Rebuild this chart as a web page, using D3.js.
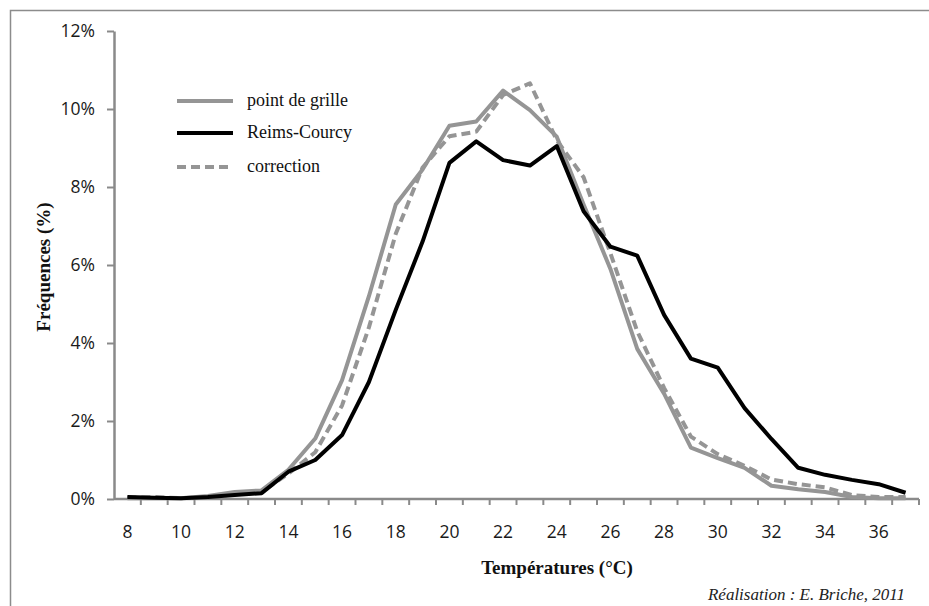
<!DOCTYPE html>
<html>
<head>
<meta charset="utf-8">
<script src="https://cdn.jsdelivr.net/npm/d3@7"></script>
<style>
  html, body { margin: 0; padding: 0; background: #fff; }
  svg { display: block; }
</style>
</head>
<body>
<svg id="chart" width="929" height="606"></svg>
<script>
const temperatures = [8,9,10,11,12,13,14,15,16,17,18,19,20,21,22,23,24,25,26,27,28,29,30,31,32,33,34,35,36,37];
const pointDeGrille = [0.02,0.02,0.02,0.08,0.18,0.22,0.75,1.55,3.05,5.2,7.55,8.45,9.57,9.68,10.47,9.97,9.29,7.55,5.9,3.85,2.7,1.32,1.05,0.8,0.34,0.25,0.18,0.05,0.02,0.02];
const reimsCourcy = [0.05,0.03,0.02,0.05,0.1,0.15,0.7,1.0,1.64,3.0,4.85,6.6,8.62,9.17,8.69,8.55,9.05,7.38,6.47,6.24,4.72,3.6,3.37,2.33,1.54,0.8,0.62,0.49,0.38,0.16];
const correction = [0.03,0.05,0.02,0.05,0.12,0.18,0.65,1.2,2.4,4.4,6.8,8.5,9.3,9.42,10.36,10.66,9.2,8.25,6.3,4.3,2.85,1.6,1.15,0.85,0.5,0.38,0.3,0.1,0.05,0.05];
const yTicks = [0,2,4,6,8,10,12];
const xTickLabels = [8,10,12,14,16,18,20,22,24,26,28,30,32,34,36];
const seriesNames = ["point de grille","Reims-Courcy","correction"];

(function () {
const svg = d3.select("#chart");
const axisColor = "#8a8a8a";
const grey = "#959595";

// frame (top and left edges visible)
svg.append("rect").attr("x",10.5).attr("y",10.5).attr("width",1000).attr("height",1000)
  .attr("fill","none").attr("stroke","#8c8c8c").attr("stroke-width",1.5);

const pLeft = 114, pRight = 919, pTop = 31, pBottom = 499;
const x = d3.scaleBand().domain(temperatures).range([pLeft, pRight]).paddingInner(0).paddingOuter(0);
const y = d3.scaleLinear().domain([0, 12]).range([pBottom, pTop]);

// y axis
const yAxis = d3.axisLeft(y).tickValues(yTicks).tickFormat(d => d + "%").tickSize(7).tickSizeOuter(0);
const gy = svg.append("g").attr("transform", `translate(${pLeft},0)`).call(yAxis);
gy.select(".domain").attr("stroke", axisColor).attr("stroke-width", 2.5);
gy.selectAll(".tick line").attr("stroke", axisColor).attr("stroke-width", 2);
gy.selectAll(".tick text").attr("fill", "#1a1a1a").attr("font-family", "'Open Sans', Lato, sans-serif")
  .attr("font-size", 17.5).attr("dx", -9);

// x axis: ticks at band boundaries
const bounds = temperatures.map(t => x(t)).concat([x(temperatures[temperatures.length-1]) + x.bandwidth()]);
const gx = svg.append("g");
gx.append("line").attr("x1", pLeft).attr("x2", pRight).attr("y1", pBottom).attr("y2", pBottom)
  .attr("stroke", axisColor).attr("stroke-width", 2.5);
gx.selectAll("line.tk").data(bounds.slice(1)).enter().append("line").attr("class","tk")
  .attr("x1", d => d).attr("x2", d => d).attr("y1", pBottom).attr("y2", pBottom + 6)
  .attr("stroke", axisColor).attr("stroke-width", 2);
gx.selectAll("text").data(xTickLabels).enter().append("text")
  .attr("x", d => x(d) + x.bandwidth()/2).attr("y", pBottom + 39)
  .attr("text-anchor", "middle").attr("fill", "#1a1a1a")
  .attr("font-family", "'Open Sans', Lato, sans-serif").attr("font-size", 17.5)
  .text(d => d);

// lines
const line = d3.line().x((d,i) => x(temperatures[i]) + x.bandwidth()/2).y(d => y(d));
svg.append("path").datum(pointDeGrille).attr("d", line).attr("fill","none")
  .attr("stroke", grey).attr("stroke-width", 4).attr("stroke-linejoin","round");
svg.append("path").datum(correction).attr("d", line).attr("fill","none")
  .attr("stroke", grey).attr("stroke-width", 4).attr("stroke-dasharray","9,5").attr("stroke-linejoin","round");
svg.append("path").datum(reimsCourcy).attr("d", line).attr("fill","none")
  .attr("stroke", "#000").attr("stroke-width", 4).attr("stroke-linejoin","round");

// legend
const legendStyles = [
  {stroke: grey, dash: null},
  {stroke: "#000", dash: null},
  {stroke: grey, dash: "9,5"}
];
const ly = [101, 133, 167];
seriesNames.forEach((name, i) => {
  svg.append("line").attr("x1", 177).attr("x2", 233).attr("y1", ly[i]).attr("y2", ly[i])
    .attr("stroke", legendStyles[i].stroke).attr("stroke-width", 4)
    .attr("stroke-dasharray", legendStyles[i].dash);
  svg.append("text").attr("x", 247).attr("y", ly[i] + 5)
    .attr("font-family", "'Liberation Serif', 'DejaVu Serif', serif").attr("font-size", 18)
    .attr("fill", "#111").text(name);
});

// axis titles
svg.append("text").attr("transform", "translate(50,267) rotate(-90)")
  .attr("text-anchor", "middle").attr("font-family", "'Liberation Serif', serif")
  .attr("font-weight", "bold").attr("font-size", 19).attr("fill", "#111").text("Fréquences (%)");
svg.append("text").attr("x", 557).attr("y", 574).attr("text-anchor", "middle")
  .attr("font-family", "'Liberation Serif', serif").attr("font-weight", "bold")
  .attr("font-size", 19).attr("fill", "#111").text("Températures (°C)");
svg.append("text").attr("x", 905).attr("y", 600).attr("text-anchor", "end")
  .attr("font-family", "'Liberation Serif', serif").attr("font-style", "italic")
  .attr("font-size", 17).attr("fill", "#222").text("Réalisation : E. Briche, 2011");
})();
</script>
</body>
</html>
